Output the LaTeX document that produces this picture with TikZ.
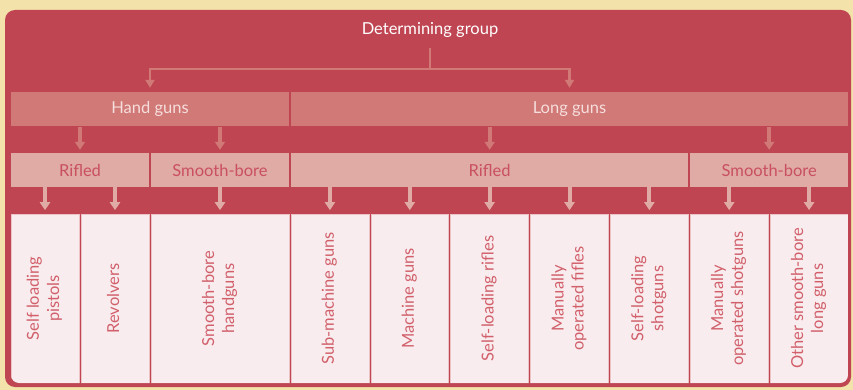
\documentclass[tikz,border=0pt]{standalone}
\usepackage{fontspec}
\setmainfont{Lato}
\usepackage{graphicx}
\usepackage{tikz}
\usetikzlibrary{arrows.meta}
\definecolor{cream}{HTML}{F3E2AA}
\definecolor{framered}{HTML}{BF4552}
\definecolor{lvlonefill}{HTML}{D07977}
\definecolor{lvlonetext}{HTML}{F6DEDC}
\definecolor{lvltwofill}{HTML}{E0AAA5}
\definecolor{lvltwotext}{HTML}{C9505E}
\definecolor{leaffill}{HTML}{F9ECEE}
\definecolor{leafedge}{HTML}{EDC4C6}
\definecolor{leaftext}{HTML}{D1606B}
\newcommand{\vtext}[1]{\rotatebox{90}{\begin{tabular}{@{}c@{}}#1\end{tabular}}}

\begin{document}
\begin{tikzpicture}
            [every node/.style={inner sep=0pt, font=\fontsize{16.5}{20}\selectfont},
             lvlone/.style={fill=lvlonefill, text=lvlonetext, minimum height=34.5pt},
             lvltwo/.style={fill=lvltwofill, text=lvltwotext, minimum height=34pt},
             leaf/.style={fill=leaffill, draw=leafedge, line width=0.6pt, text=leaftext, minimum height=169pt},
             connline/.style={draw=lvlonefill, line width=2.5pt},
             conn/.style={connline, -{Triangle[width=9pt,length=8pt]}, shorten >=4pt},
             stemone/.style={draw=lvlonefill, line width=4pt, -{Triangle[width=10pt,length=8pt]}, shorten >=3pt},
             stemtwo/.style={draw=lvltwofill, line width=4pt, -{Triangle[width=10pt,length=8pt]}, shorten >=3.5pt}]
                \useasboundingbox [fill=cream] (0pt, 0pt) rectangle (853pt, -390pt);
                \fill [framered, rounded corners=10pt] (5pt, -10pt) rectangle (851pt, -387pt);
                \node (root) [minimum height=36pt, text=white] at (430pt, -30pt) {Determining group};
                \coordinate (split) at (430pt, -69pt);
                \node (hand) [lvlone, minimum width=278pt] at (150pt, -109.25pt) {Hand guns};
                \node (long) [lvlone, minimum width=557pt] at (569.5pt, -109.25pt) {Long guns};
                \node (hrifled) [lvltwo, minimum width=138pt] at (80pt, -170pt) {Rifled};
                \node (hsmooth) [lvltwo, minimum width=138pt] at (220pt, -170pt) {Smooth-bore};
                \node (lrifled) [lvltwo, minimum width=397.3pt] at (489.65pt, -170pt) {Rifled};
                \node (lsmooth) [lvltwo, minimum width=157.7pt] at (769.2pt, -170pt) {Smooth-bore};
                \begin{scope}
                \clip [rounded corners=8pt] (11pt, -150pt) rectangle (848pt, -383pt);
                \node (pistols) [leaf, minimum width=68pt] at (45pt, -298.5pt) {\vtext{Self loading\\pistols}};
                \node (revolvers) [leaf, minimum width=68pt] at (115pt, -298.5pt) {\vtext{Revolvers}};
                \node (sbhand) [leaf, minimum width=138pt] at (220pt, -298.5pt) {\vtext{Smooth-bore\\handguns}};
                \node (submg) [leaf, minimum width=77.86pt] at (329.93pt, -298.5pt) {\vtext{Sub-machine guns}};
                \node (mg) [leaf, minimum width=77.86pt] at (409.79pt, -298.5pt) {\vtext{Machine guns}};
                \node (slrifle) [leaf, minimum width=77.86pt] at (489.64pt, -298.5pt) {\vtext{Self-loading rifles}};
                \node (mrifle) [leaf, minimum width=77.86pt] at (569.5pt, -298.5pt) {\vtext{Manually\\operated fifles}};
                \node (slshot) [leaf, minimum width=77.86pt] at (649.36pt, -298.5pt) {\vtext{Self-loading\\shotguns}};
                \node (mshot) [leaf, minimum width=77.86pt] at (729.21pt, -298.5pt) {\vtext{Manually\\operated shotguns}};
                \node (othersb) [leaf, minimum width=77.86pt] at (809.07pt, -298.5pt) {\vtext{Other smooth-bore\\long guns}};
                \end{scope}
                \draw [connline] (root.south) to (split);
                \draw [conn] (split) -| (hand);
                \draw [conn] (split) -| (long);
                \draw [stemone] (hand.south -| hrifled.north) to (hrifled.north);
                \draw [stemone] (hand.south -| hsmooth.north) to (hsmooth.north);
                \draw [stemone] (long.south -| lrifled.north) to (lrifled.north);
                \draw [stemone] (long.south -| lsmooth.north) to (lsmooth.north);
                \draw [stemtwo] (hrifled.south -| pistols.north) to (pistols.north);
                \draw [stemtwo] (hrifled.south -| revolvers.north) to (revolvers.north);
                \draw [stemtwo] (hsmooth.south -| sbhand.north) to (sbhand.north);
                \draw [stemtwo] (lrifled.south -| submg.north) to (submg.north);
                \draw [stemtwo] (lrifled.south -| mg.north) to (mg.north);
                \draw [stemtwo] (lrifled.south -| slrifle.north) to (slrifle.north);
                \draw [stemtwo] (lrifled.south -| mrifle.north) to (mrifle.north);
                \draw [stemtwo] (lrifled.south -| slshot.north) to (slshot.north);
                \draw [stemtwo] (lsmooth.south -| mshot.north) to (mshot.north);
                \draw [stemtwo] (lsmooth.south -| othersb.north) to (othersb.north);
            \end{tikzpicture}
\end{document}
